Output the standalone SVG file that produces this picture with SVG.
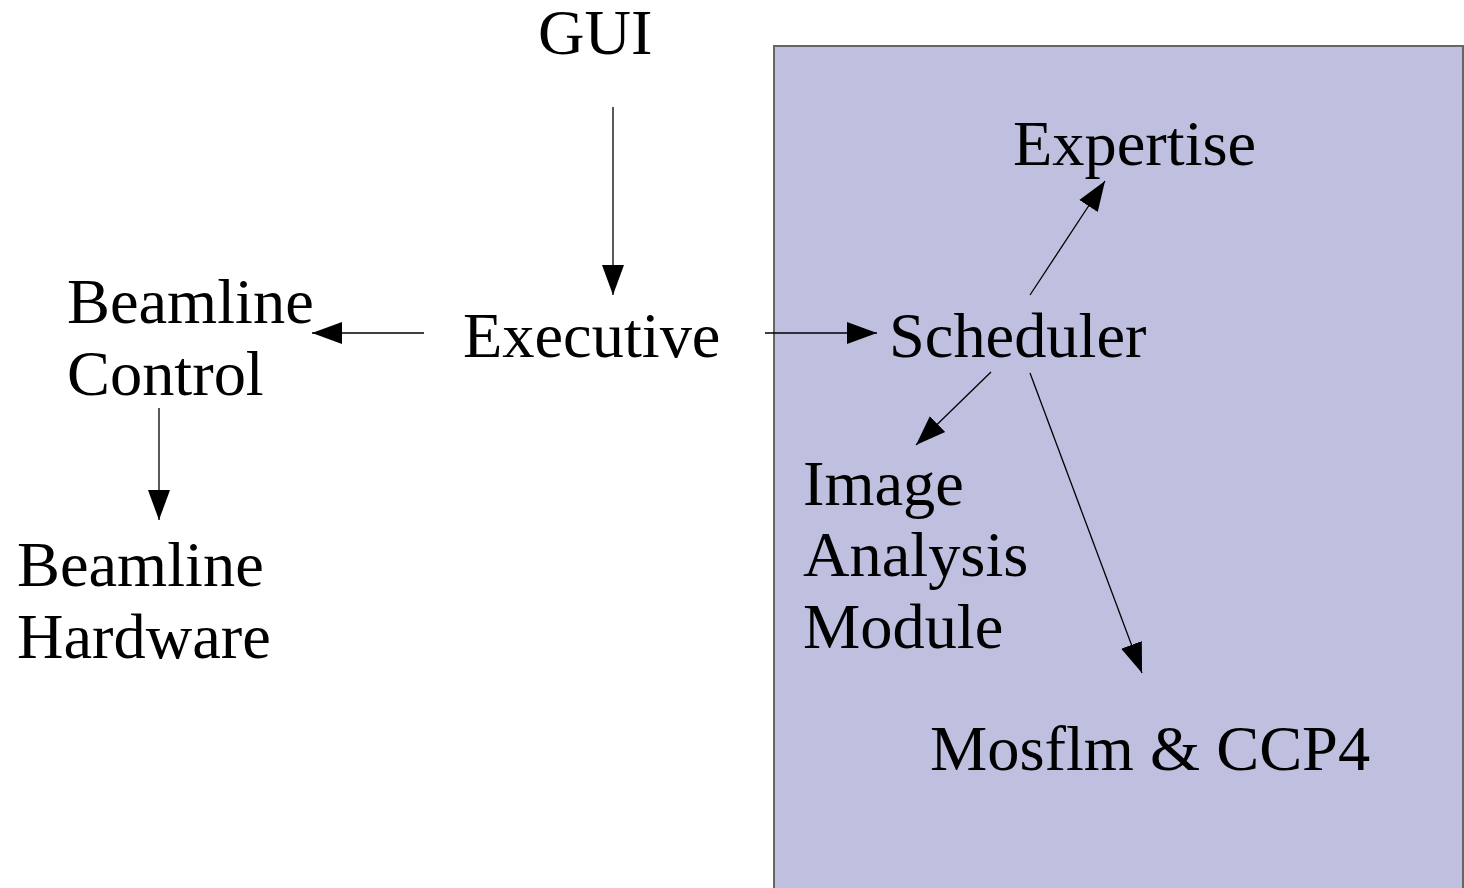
<svg xmlns="http://www.w3.org/2000/svg" width="1464" height="888" viewBox="0 0 1464 888">
<style>
text{font-family:"Liberation Serif","Times New Roman",serif;font-size:64.4px;fill:#000}
.c{stroke:#000;stroke-width:1.3;fill:none;marker-end:url(#ah)}
</style>
<defs>
<marker id="ah" markerUnits="userSpaceOnUse" markerWidth="32" markerHeight="24" refX="30" refY="12" orient="auto">
<path d="M0,1 L30,12 L0,23 Z" fill="#000"/>
</marker>
</defs>
<rect width="1464" height="888" fill="#fff"/>
<g id="region"><rect x="774" y="46" width="689" height="850" fill="#bfbfdf" stroke="#666" stroke-width="2"/></g>
<g id="gui"><text x="538" y="54">GUI</text></g>
<g id="executive"><text x="463" y="357">Executive</text></g>
<g id="beamline-control"><text x="67" y="323">Beamline</text><text x="67" y="395">Control</text></g>
<g id="beamline-hardware"><text x="17" y="586">Beamline</text><text x="17" y="658">Hardware</text></g>
<g id="scheduler"><text x="889" y="357">Scheduler</text></g>
<g id="expertise"><text x="1013" y="165">Expertise</text></g>
<g id="image-analysis"><text x="803" y="505">Image</text><text x="803" y="576">Analysis</text><text x="803" y="648">Module</text></g>
<g id="mosflm"><text x="930" y="770">Mosflm &amp; CCP4</text></g>
<g id="connectors">
<line class="c" x1="613" y1="107" x2="613" y2="295"/>
<line class="c" x1="424" y1="333" x2="312" y2="333"/>
<line class="c" x1="765" y1="333" x2="877" y2="333"/>
<line class="c" x1="1030" y1="295" x2="1105" y2="181"/>
<line class="c" x1="991" y1="372" x2="916" y2="445"/>
<line class="c" x1="1030" y1="373" x2="1142" y2="673"/>
<line class="c" x1="159" y1="408" x2="159" y2="520"/>
</g>
</svg>
